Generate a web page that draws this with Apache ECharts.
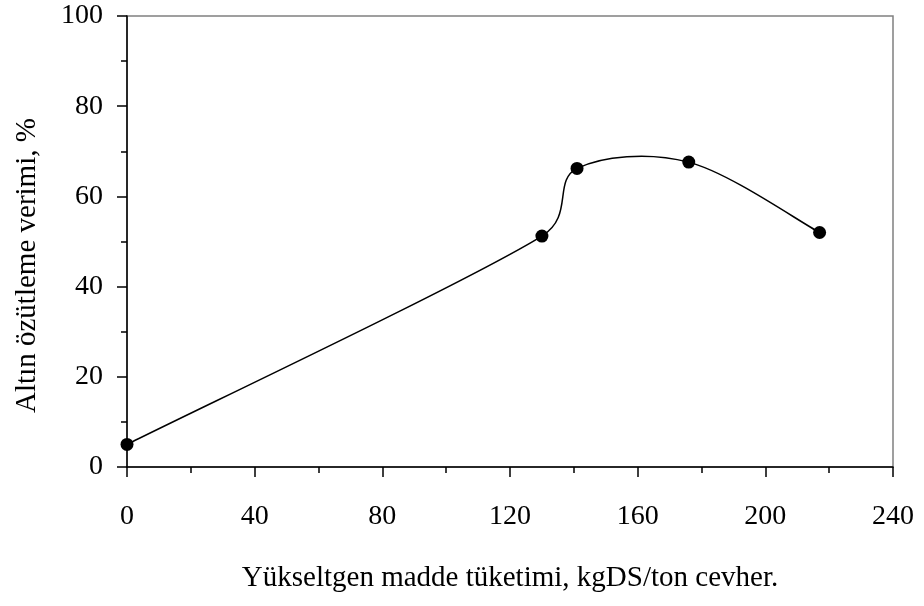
<!DOCTYPE html>
<html>
<head>
<meta charset="utf-8">
<script src="https://cdn.jsdelivr.net/npm/echarts@6/dist/echarts.min.js"></script>
<style>
  html, body { margin: 0; padding: 0; background: #fff; }
  #main { width: 924px; height: 606px; }
</style>
</head>
<body>
<div id="main"></div>
<script>
// tüketim (kgDS/ton) ve verim (%)
var consumption = [0, 130, 141, 176, 217];
var recovery = [5, 51.2, 66.2, 67.6, 52];
var xTicks = [0, 40, 80, 120, 160, 200, 240];
var yTicks = [0, 20, 40, 60, 80, 100];

var chart = echarts.init(document.getElementById('main'));
var pts = consumption.map(function (x, i) { return [x, recovery[i]]; });
var font = 'Liberation Serif';

// Excel tarzı yumuşatılmış eğri (piksel uzayında bezier)
function smoothPath(p) {
    function dist(a, b) { return Math.sqrt((a[0] - b[0]) * (a[0] - b[0]) + (a[1] - b[1]) * (a[1] - b[1])); }
    var d = 'M' + p[0][0] + ' ' + p[0][1];
    for (var i = 0; i < p.length - 1; i++) {
	var p0 = p[Math.max(i - 1, 0)], p1 = p[i], p2 = p[i + 1], p3 = p[Math.min(i + 2, p.length - 1)];
	var d12 = dist(p1, p2), d02 = dist(p0, p2), d13 = dist(p1, p3);
	var f1 = 1 / 6, f2 = 1 / 6;
	if (d02 / 6 > d12 / 2) f1 = d12 / (2 * d02);
	if (d13 / 6 > d12 / 2) f2 = d12 / (2 * d13);
	var c1 = [p1[0] + f1 * (p2[0] - p0[0]), p1[1] + f1 * (p2[1] - p0[1])];
	var c2 = [p2[0] - f2 * (p3[0] - p1[0]), p2[1] - f2 * (p3[1] - p1[1])];
	d += ' C' + c1[0] + ' ' + c1[1] + ' ' + c2[0] + ' ' + c2[1] + ' ' + p2[0] + ' ' + p2[1];
    }
    return d;
}

chart.setOption({
    animation: false,
    grid: {
	left: 127, right: 31, top: 16, bottom: 139,
	show: true, borderColor: '#808080', borderWidth: 1.5
    },
    xAxis: {
	type: 'value',
	min: xTicks[0], max: xTicks[xTicks.length - 1], interval: 40,
	name: 'Yükseltgen madde tüketimi, kgDS/ton cevher.',
	nameLocation: 'middle', nameGap: 97,
	nameTextStyle: { fontFamily: font, fontSize: 29, color: '#000' },
	axisLine: { lineStyle: { color: '#000', width: 1.5 } },
	axisTick: { inside: false, length: 10, lineStyle: { color: '#000', width: 1.5 } },
	minorTick: { show: true, splitNumber: 2, length: 6, lineStyle: { color: '#000', width: 1.5 } },
	axisLabel: { fontFamily: font, fontSize: 28, color: '#000', margin: 36 },
	splitLine: { show: false }
    },
    yAxis: {
	type: 'value',
	min: yTicks[0], max: yTicks[yTicks.length - 1], interval: 20,
	name: 'Altın özütleme verimi, %',
	nameLocation: 'middle', nameGap: 85,
	nameTextStyle: { fontFamily: font, fontSize: 29, color: '#000', padding: [0, 48, 0, 0] },
	axisLine: { show: true, lineStyle: { color: '#000', width: 1.5 } },
	axisTick: { show: true, length: 10, lineStyle: { color: '#000', width: 1.5 } },
	minorTick: { show: true, splitNumber: 2, length: 6, lineStyle: { color: '#000', width: 1.5 } },
	axisLabel: { fontFamily: font, fontSize: 28, color: '#000', margin: 24 },
	splitLine: { show: false }
    },
    series: [{
	type: 'custom',
	data: pts,
	silent: true,
	renderItem: function (params, api) {
	    if (params.dataIndex !== 0) return null;
	    var px = pts.map(function (v) { return api.coord(v); });
	    return {
		type: 'path',
		shape: { pathData: smoothPath(px) },
		style: { stroke: '#000', fill: null, lineWidth: 1.5 }
	    };
	}
    }, {
	type: 'scatter',
	data: pts,
	symbol: 'circle',
	symbolSize: 13,
	itemStyle: { color: '#000', opacity: 1 },
	z: 3
    }]
});
</script>
</body>
</html>
